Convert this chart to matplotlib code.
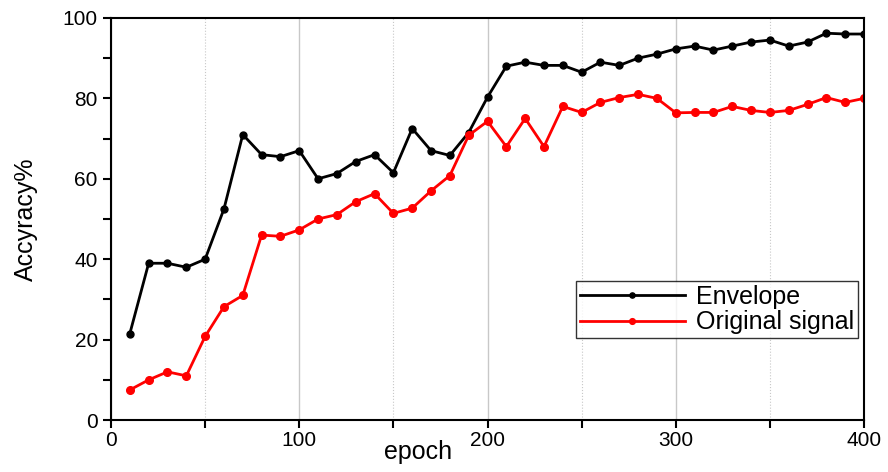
import matplotlib
matplotlib.use("Agg")
import matplotlib.pyplot as plt
from matplotlib.ticker import MultipleLocator

plt.rcParams["font.family"] = ["Liberation Sans", "DejaVu Sans"]

# Data
epochs = list(range(10, 410, 10))
envelope = [21.5, 39, 39, 38, 40, 52.5, 71, 66, 65.5, 67,
            60, 61.3, 64.3, 66, 61.5, 72.5, 67, 65.8, 71.5, 80.3,
            88, 89, 88.2, 88.2, 86.5, 89, 88.2, 90, 91, 92.3,
            93, 92, 93, 94, 94.5, 93, 94, 96.2, 96, 96]
original = [7.5, 10, 12, 11, 20.8, 28.2, 31, 46, 45.7, 47.3,
            50, 51.1, 54.3, 56.3, 51.4, 52.7, 57, 60.8, 70.8, 74.3,
            68, 75, 68, 78, 76.5, 79, 80.2, 81, 80, 76.4,
            76.5, 76.5, 78, 77, 76.5, 77, 78.5, 80.2, 79, 80]

fig = plt.figure(figsize=(8.88, 4.72), dpi=100)
ax = fig.add_axes([0.125, 0.110, 0.848, 0.852])

ax.plot(epochs, envelope, color="black", linewidth=2, marker="o", markersize=5,
        label="Envelope")
ax.plot(epochs, original, color="red", linewidth=2, marker="o", markersize=5.5,
        label="Original signal")

ax.set_xlim(0, 400)
ax.set_ylim(0, 100)
ax.xaxis.set_major_locator(MultipleLocator(100))
ax.xaxis.set_minor_locator(MultipleLocator(50))
ax.yaxis.set_major_locator(MultipleLocator(20))
ax.yaxis.set_minor_locator(MultipleLocator(10))

# vertical grid: solid at majors, dotted at minors
ax.grid(axis="x", which="major", color="#c8c8c8", linewidth=1, linestyle="-")
ax.grid(axis="x", which="minor", color="#c8c8c8", linewidth=0.8, linestyle=":")

ax.tick_params(which="both", direction="out", width=1.5, labelsize=15, length=6)
ax.tick_params(axis="x", pad=2)
for s in ax.spines.values():
    s.set_linewidth(1.5)

ax.set_xlabel("epoch", fontsize=18)
ax.xaxis.set_label_coords(0.408, -0.05)
ax.set_ylabel("Accyracy%", fontsize=18)
ax.yaxis.set_label_coords(-0.097, 0.5)

leg = ax.legend(loc="lower right", bbox_to_anchor=(0.992, 0.204), fontsize=18,
                frameon=True, fancybox=False, edgecolor="black",
                handlelength=4.2, borderpad=0.15, labelspacing=0.05,
                handletextpad=0.45, borderaxespad=0, markerscale=0.75)
leg.get_frame().set_linewidth(1)

fig.savefig("out.png", dpi=100)
